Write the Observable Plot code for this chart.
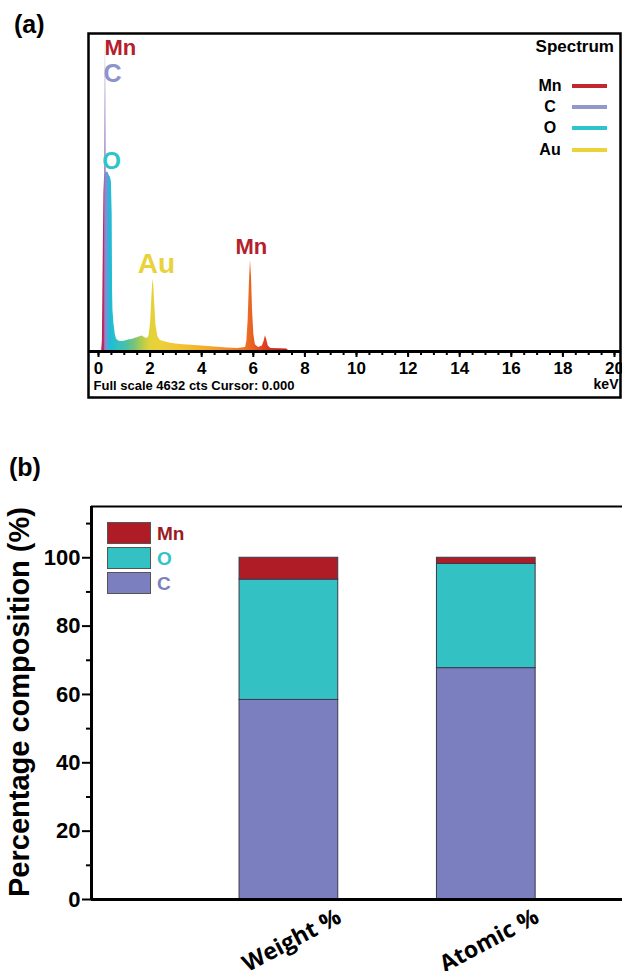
<!DOCTYPE html>
<html><head><meta charset="utf-8">
<script src="https://cdn.jsdelivr.net/npm/d3@7"></script>
<script src="https://cdn.jsdelivr.net/npm/@observablehq/plot@0.6"></script>
<style>
body{margin:0;background:#fff;font-family:"Liberation Sans",Arial,sans-serif;}
#wrap{position:relative;width:622px;height:971px;overflow:hidden;background:#fff;}
.abs{position:absolute;white-space:nowrap;line-height:1;font-weight:bold;}
svg{display:block}
</style></head><body><div id="wrap"></div>
<script>
// ---------- Panel (a): EDS spectrum ----------
const energy = [0, 0.12, 0.15, 0.17, 0.19, 0.21, 0.24, 0.27, 0.30, 0.34, 0.38, 0.42, 0.46, 0.50, 0.53, 0.545, 0.56, 0.60, 0.65, 0.70, 0.80, 0.90, 1.00, 1.10, 1.20, 1.30, 1.40, 1.50, 1.60, 1.70, 1.80, 1.90, 1.96, 2.02, 2.07, 2.11, 2.14, 2.18, 2.23, 2.30, 2.40, 2.60, 2.80, 3.00, 3.30, 3.60, 4.00, 4.50, 5.00, 5.40, 5.70, 5.75, 5.80, 5.85, 5.89, 5.93, 5.97, 6.02, 6.08, 6.20, 6.35, 6.42, 6.47, 6.52, 6.58, 6.68, 7.00, 7.30, 7.40, 20];
const counts = [0, 0, 150, 900, 1650, 2300, 2600, 4560, 2600, 2620, 2600, 2560, 2540, 2470, 2000, 900, 600, 400, 250, 180, 150, 145, 150, 160, 170, 175, 190, 200, 215, 225, 200, 190, 230, 420, 800, 1050, 980, 700, 380, 220, 160, 140, 120, 110, 100, 90, 80, 65, 50, 45, 60, 150, 450, 1000, 1330, 1100, 600, 250, 100, 60, 80, 150, 230, 170, 80, 45, 40, 35, 0, 0];
const xTicks = [0, 2, 4, 6, 8, 10, 12, 14, 16, 18, 20];
const xMinorTicks = d3.range(0, 20.01, 0.5);
const fullScale = 4632;

const peakText = ["Mn", "C", "O", "Au", "Mn"];
const peakEnergy = [0.23, 0.19, 0.15, 1.52, 5.31];
const peakCount = [4420, 4040, 2770, 1280, 1530];
const peakColor = ["#b5202a", "#8f93cc", "#2ec4c8", "#e8d33a", "#b5202a"];
const peakSize = [22, 25, 24, 28, 22];

const legendElements = ["Mn", "C", "O", "Au"];
const legendColors = ["#c0282e", "#9297cc", "#2ec4cc", "#ead43a"];

// gradient stops (keV, colour) for the energy-coloured spectrum
const gradStops = [[0.10,"#c8203c"],[0.21,"#b02a60"],[0.26,"#9a7cc4"],[0.32,"#7f90d4"],[0.40,"#3aaede"],[0.48,"#20bcd4"],[0.8,"#36c0c0"],[1.1,"#4cc0a4"],[1.4,"#78c47a"],[1.7,"#b0cc50"],[2.0,"#e2d23a"],[2.4,"#ecd03a"],[3.2,"#f2c432"],[4.2,"#f4ac2a"],[5.0,"#f29028"],[5.8,"#ec6c24"],[6.4,"#e04420"],[7.0,"#c82222"],[8.0,"#c02020"]];

const spec = energy.map((e, i) => ({e, c: counts[i]}));
const peaks = peakText.map((t, i) => ({t, e: peakEnergy[i], c: peakCount[i], color: peakColor[i], size: peakSize[i]}));

const font = "Liberation Sans, Arial, sans-serif";

const plotA = Plot.plot({
  width: 622, height: 400,
  marginLeft: 98, marginRight: 8, marginTop: 33, marginBottom: 49,
  style: {fontFamily: font, background: "transparent", overflow: "visible"},
  x: {domain: [0, 20], axis: null},
  y: {domain: [0, fullScale], axis: null},
  marks: [
    Plot.areaY(spec, {x: "e", y: "c", fill: "url(#specGrad)", curve: "linear"}),
    Plot.ruleY([0], {stroke: "#000", strokeWidth: 3, insetLeft: -10, insetRight: -6}),
    Plot.axisX(xMinorTicks, {tickSize: 4, text: null, strokeWidth: 2, stroke: "#000", label: null}),
    Plot.axisX(xTicks, {tickSize: 6, tickPadding: 4, fontSize: 17, fontWeight: "bold", strokeWidth: 2, fill: "#000", tickFormat: d => String(d), label: null}),
    Plot.frame({stroke: "#000", strokeWidth: 2.5, insetLeft: -10, insetRight: -6, insetBottom: -46}),
    Plot.text(peaks, {x: "e", y: "c", text: "t", fill: "color", fontSize: "size", fontWeight: "bold", textAnchor: "start", lineAnchor: "middle"}),
    Plot.text(["Full scale 4632 cts Cursor: 0.000"], {frameAnchor: "bottom-left", textAnchor: "start", lineAnchor: "middle", dx: -5, dy: 34, fontSize: 13, fontWeight: "bold", fill: "#000"}),
    Plot.text(["keV"], {frameAnchor: "bottom-right", textAnchor: "end", lineAnchor: "middle", dx: 4, dy: 33, fontSize: 14, fontWeight: "bold", fill: "#000"})
  ]
});

const sx = plotA.scale("x");
const svgA = d3.select(plotA.tagName === "svg" ? plotA : plotA.querySelector("svg"));
const defs = svgA.insert("defs", ":first-child");
const lg = defs.append("linearGradient").attr("id", "specGrad").attr("gradientUnits", "userSpaceOnUse")
  .attr("x1", sx.apply(0)).attr("x2", sx.apply(8)).attr("y1", 0).attr("y2", 0);
gradStops.forEach(([e, c]) => lg.append("stop").attr("offset", e / 8).attr("stop-color", c));

// ---------- Panel (b): stacked composition ----------
const categories = ["Weight %", "Atomic %"];
const categoryPos = [1, 2];
const elements = ["C", "O", "Mn"];
const elementColors = ["#7b7fbf", "#33c1c3", "#b01c26"];
const cValues = [58.4, 67.7];
const oValues = [35.2, 30.5];
const mnValues = [6.4, 1.8];
const yTicks = [0, 20, 40, 60, 80, 100];
const yMinorTicks = [10, 30, 50, 70, 90, 110];

const series = [cValues, oValues, mnValues];
const rows = [];
categories.forEach((cat, j) => {
  let base = 0;
  elements.forEach((el, k) => {
    const v = series[k][j];
    rows.push({cat, pos: categoryPos[j], el, y1: base, y2: base + v});
    base += v;
  });
});
const half = 0.25;

const plotB = Plot.plot({
  width: 622, height: 571,
  marginLeft: 91, marginRight: 0, marginTop: 106, marginBottom: 72,
  style: {fontFamily: font, background: "transparent", overflow: "visible"},
  x: {domain: [0, 2.69], axis: null},
  y: {domain: [0, 115], axis: null},
  color: {domain: elements, range: elementColors},
  marks: [
    Plot.rectY(rows, {x1: d => d.pos - half, x2: d => d.pos + half, y1: "y1", y2: "y2", fill: "el", stroke: "#3a3a4a", strokeWidth: 1}),
    Plot.ruleY([0], {stroke: "#000", strokeWidth: 3}),
    Plot.ruleY([115], {stroke: "#000", strokeWidth: 2}),
    Plot.ruleX([0], {stroke: "#000", strokeWidth: 3}),
    Plot.axisY(yMinorTicks, {tickSize: 5, text: null, strokeWidth: 2, stroke: "#000", label: null}),
    Plot.axisY(yTicks, {tickSize: 9, tickPadding: 2, fontSize: 22, fontWeight: "bold", strokeWidth: 2, fill: "#000", label: null}),
    Plot.text(categories, {x: categoryPos, y: () => 0, text: d => d, rotate: -28, dy: 41, dx: 3, fontSize: 23, fontWeight: "bold", fontFamily: "Open Sans", textAnchor: "middle", lineAnchor: "middle", fill: "#000"}),
    Plot.text(["Percentage composition (%)"], {frameAnchor: "left", rotate: -90, dx: -72, dy: -1, fontSize: 29, fontWeight: "bold", textAnchor: "middle", lineAnchor: "middle", fill: "#000"})
  ]
});

const wrap = document.getElementById("wrap");
const boxA = document.createElement("div");
boxA.style.cssText = "position:absolute;left:0;top:0;";
boxA.appendChild(plotA);
const boxB = document.createElement("div");
boxB.style.cssText = "position:absolute;left:0;top:400px;";
boxB.appendChild(plotB);
wrap.appendChild(boxA);
wrap.appendChild(boxB);

function addText(txt, left, top, size, color, extra) {
  const d = document.createElement("div");
  d.className = "abs";
  d.textContent = txt;
  d.style.cssText += `left:${left}px;top:${top}px;font-size:${size}px;color:${color};` + (extra || "");
  wrap.appendChild(d);
  return d;
}
function addBox(left, top, w, h, color, extra) {
  const d = document.createElement("div");
  d.style.cssText = `position:absolute;left:${left}px;top:${top}px;width:${w}px;height:${h}px;background:${color};box-sizing:border-box;` + (extra || "");
  wrap.appendChild(d);
}

// panel labels
addText("(a)", 14, 12, 25, "#000");
addText("(b)", 9, 455, 25, "#000");

// legend (a)
addText("Spectrum", 0, 38, 17, "#000", "left:auto;right:8px;");
const legACenters = [86, 107, 128, 150];
legendElements.forEach((el, i) => {
  addText(el, 530, legACenters[i] - 7.8, 16, "#000", "width:40px;text-align:center;");
  addBox(572, legACenters[i] - 2, 35, 4, legendColors[i]);
});

// legend (b)
const legBOrder = ["Mn", "O", "C"];
const legBTextColors = {Mn: "#9b1b24", O: "#2ec4c8", C: "#7b7fc0"};
legBOrder.forEach((el, i) => {
  const top = 522 + i * 25;
  addBox(107, top, 44, 22, elementColors[elements.indexOf(el)], "border:1px solid #555;");
  addText(el, 157, top + 1.5, 19, legBTextColors[el]);
});
</script></body></html>
